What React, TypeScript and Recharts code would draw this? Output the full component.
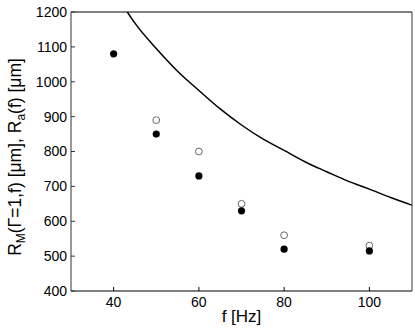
import {
  ComposedChart,
  Line,
  Scatter,
  XAxis,
  YAxis,
} from "recharts";

// measured R_M(Γ=1,f), filled dots
const freqFilled = [40, 50, 60, 70, 80, 100];
const rFilled = [1080, 850, 730, 630, 520, 515];

// R_a(f), open circles
const freqOpen = [50, 60, 70, 80, 100];
const rOpen = [890, 800, 650, 560, 530];

// theory curve
const curveF = [43.2, 45, 50, 55, 60, 65, 70, 75, 80, 85, 90, 95, 100, 105, 110];
const curveR = [1200, 1168, 1095, 1030, 975, 922, 876, 836, 803, 770, 742, 715, 692, 668, 646];

const xTicks = [40, 60, 80, 100];
const yTicks = [400, 500, 600, 700, 800, 900, 1000, 1100, 1200];

const filledData = freqFilled.map((f, i) => ({ f, r: rFilled[i] }));
const openData = freqOpen.map((f, i) => ({ f, r: rOpen[i] }));
const curveData = curveF.map((f, i) => ({ f, r: curveR[i] }));

const FONT = "'Liberation Sans', Arial, Helvetica, sans-serif";
const tickStyle = { fontSize: 14, fill: "#000", fontFamily: FONT };

const FilledDot = (props: any) => (
  <circle cx={props.cx} cy={props.cy} r={3.6} fill="#000" />
);
const OpenDot = (props: any) => (
  <circle cx={props.cx} cy={props.cy} r={3.4} fill="#fff" stroke="#666" strokeWidth={1} />
);

export default function App() {
  return (
    <div style={{ position: "absolute", left: 0, top: 0, background: "#fff" }}>
      <ComposedChart
        width={415}
        height={328}
        margin={{ top: 11, right: 2, bottom: 0, left: 0 }}
      >
        <XAxis
          xAxisId="b"
          dataKey="f"
          type="number"
          domain={[30, 110]}
          ticks={xTicks}
          allowDataOverflow
          height={37}
          tickSize={-4}
          tickMargin={10}
          tick={tickStyle}
          stroke="#000"
          label={{
            value: "f [Hz]",
            position: "insideBottom",
            offset: 6,
            style: { fontSize: 17, fill: "#000", fontFamily: FONT },
          }}
        />
        <XAxis
          xAxisId="t"
          orientation="top"
          dataKey="f"
          type="number"
          domain={[30, 110]}
          ticks={xTicks}
          allowDataOverflow
          height={1}
          tickSize={-4}
          tick={false}
          stroke="#000"
        />
        <YAxis
          yAxisId="l"
          type="number"
          domain={[400, 1200]}
          ticks={yTicks}
          allowDataOverflow
          width={71}
          tickSize={-4}
          tickMargin={8}
          tick={tickStyle}
          stroke="#333"
          label={{
            content: () => (
              <text
                transform="translate(21,157) rotate(-90)"
                textAnchor="middle"
                fontSize={17.5}
                fontFamily={FONT}
                fill="#000"
              >
                R<tspan fontSize={12} dy={4}>M</tspan>
                <tspan dy={-4}>(Γ=1,f) [μm], R</tspan>
                <tspan fontSize={12} dy={4}>a</tspan>
                <tspan dy={-4}>(f) [μm]</tspan>
              </text>
            ),
          }}
        />
        <YAxis
          yAxisId="r"
          orientation="right"
          type="number"
          domain={[400, 1200]}
          ticks={yTicks}
          allowDataOverflow
          width={1}
          tickSize={-4}
          tick={false}
          stroke="#333"
        />
        <Line
          xAxisId="b"
          yAxisId="l"
          data={curveData}
          dataKey="r"
          type="monotone"
          stroke="#000"
          strokeWidth={1.5}
          dot={false}
          activeDot={false}
          isAnimationActive={false}
        />
        <Scatter
          xAxisId="b"
          yAxisId="l"
          data={openData}
          dataKey="r"
          shape={OpenDot}
          isAnimationActive={false}
        />
        <Scatter
          xAxisId="b"
          yAxisId="l"
          data={filledData}
          dataKey="r"
          shape={FilledDot}
          isAnimationActive={false}
        />
      </ComposedChart>
    </div>
  );
}
